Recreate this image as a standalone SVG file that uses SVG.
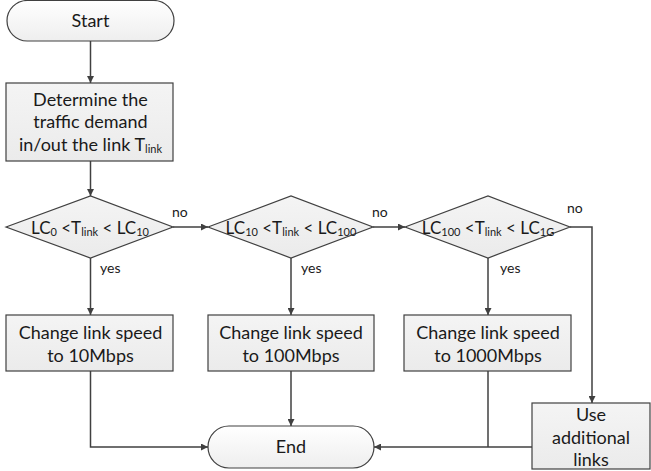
<svg xmlns="http://www.w3.org/2000/svg" width="651" height="471" viewBox="0 0 651 471">
<style>
.shape{stroke:#404040;stroke-width:1.2}
.box{fill:url(#gBox)}
.term{fill:url(#gTerm)}
.t{font-family:Lato,"Liberation Sans",sans-serif;font-size:18px;fill:#1a1a1a;text-anchor:middle}
.d{font-size:17px}
.lbl{font-family:Lato,"Liberation Sans",sans-serif;font-size:14px;fill:#1a1a1a}
.sub{font-size:11px}
.c{fill:none;stroke:#404040;stroke-width:1.5}
</style>
<defs>
<linearGradient id="gBox" x1="0" y1="0" x2="0" y2="1"><stop offset="0" stop-color="#f4f4f4"/><stop offset="1" stop-color="#ebebeb"/></linearGradient>
<linearGradient id="gTerm" x1="0" y1="0" x2="0" y2="1"><stop offset="0" stop-color="#ffffff"/><stop offset="1" stop-color="#eeeeee"/></linearGradient>
<marker id="arr" viewBox="0 0 10 10" refX="10" refY="5" markerWidth="7" markerHeight="7" markerUnits="userSpaceOnUse" orient="auto"><path d="M0,0 L10,5 L0,10 z" fill="#404040"/></marker>
</defs>
<g id="connectors">
<path class="c" d="M90.5,41 V83" marker-end="url(#arr)"/>
<path class="c" d="M90.5,161 V196" marker-end="url(#arr)"/>
<path class="c" d="M173,227 H208" marker-end="url(#arr)"/>
<path class="c" d="M373,227 H405" marker-end="url(#arr)"/>
<path class="c" d="M570,227 H592 V403" marker-end="url(#arr)"/>
<path class="c" d="M90.5,258 V315" marker-end="url(#arr)"/>
<path class="c" d="M291,258 V315" marker-end="url(#arr)"/>
<path class="c" d="M488,258 V315" marker-end="url(#arr)"/>
<path class="c" d="M90.5,371 V447 H208" marker-end="url(#arr)"/>
<path class="c" d="M291,371 V426" marker-end="url(#arr)"/>
<path class="c" d="M488,371 V447"/>
<path class="c" d="M532,447 H374" marker-end="url(#arr)"/>
</g>
<g id="start"><rect class="shape term" x="7" y="0.5" width="167" height="40.5" rx="20.25"/><text class="t" x="90.5" y="27">Start</text></g>
<g id="determine"><rect class="shape box" x="6" y="83" width="167" height="78"/>
<text class="t" x="90.5" y="106">Determine the</text>
<text class="t" x="90.5" y="128">traffic demand</text>
<text class="t" x="90.5" y="151">in/out the link T<tspan class="sub" dy="2">link</tspan></text></g>
<g id="d1"><polygon class="shape box" points="6,227 90.5,196 173,227 90.5,258"/>
<text class="t d" x="90" y="234">LC<tspan class="sub" dy="2">0</tspan><tspan dy="-2"> &lt;T</tspan><tspan class="sub" dy="2">link</tspan><tspan dy="-2"> &lt; LC</tspan><tspan class="sub" dy="2">10</tspan></text></g>
<g id="d2"><polygon class="shape box" points="208,227 291,196 373,227 291,258"/>
<text class="t d" x="291" y="234">LC<tspan class="sub" dy="2">10</tspan><tspan dy="-2"> &lt;T</tspan><tspan class="sub" dy="2">link</tspan><tspan dy="-2"> &lt; LC</tspan><tspan class="sub" dy="2">100</tspan></text></g>
<g id="d3"><polygon class="shape box" points="405,227 488,196 570,227 488,258"/>
<text class="t d" x="488" y="234">LC<tspan class="sub" dy="2">100</tspan><tspan dy="-2"> &lt;T</tspan><tspan class="sub" dy="2">link</tspan><tspan dy="-2"> &lt; LC</tspan><tspan class="sub" dy="2">1G</tspan></text></g>
<g id="labels">
<text class="lbl" x="172" y="217">no</text>
<text class="lbl" x="372" y="217">no</text>
<text class="lbl" x="567" y="213">no</text>
<text class="lbl" x="100" y="273">yes</text>
<text class="lbl" x="301" y="273">yes</text>
<text class="lbl" x="500" y="273">yes</text>
</g>
<g id="box1"><rect class="shape box" x="6" y="315" width="167" height="56"/>
<text class="t" x="90.5" y="339">Change link speed</text><text class="t" x="90.5" y="362">to 10Mbps</text></g>
<g id="box2"><rect class="shape box" x="208" y="315" width="166" height="56"/>
<text class="t" x="291" y="339">Change link speed</text><text class="t" x="291" y="362">to 100Mbps</text></g>
<g id="box3"><rect class="shape box" x="404" y="315" width="167" height="56"/>
<text class="t" x="488" y="339">Change link speed</text><text class="t" x="488" y="362">to 1000Mbps</text></g>
<g id="use"><rect class="shape box" x="532" y="403" width="118" height="66"/>
<text class="t" x="591" y="421">Use</text><text class="t" x="591" y="444">additional</text><text class="t" x="591" y="466">links</text></g>
<g id="end"><rect class="shape term" x="208" y="426" width="166" height="42" rx="21"/><text class="t" x="291" y="453">End</text></g>
</svg>
